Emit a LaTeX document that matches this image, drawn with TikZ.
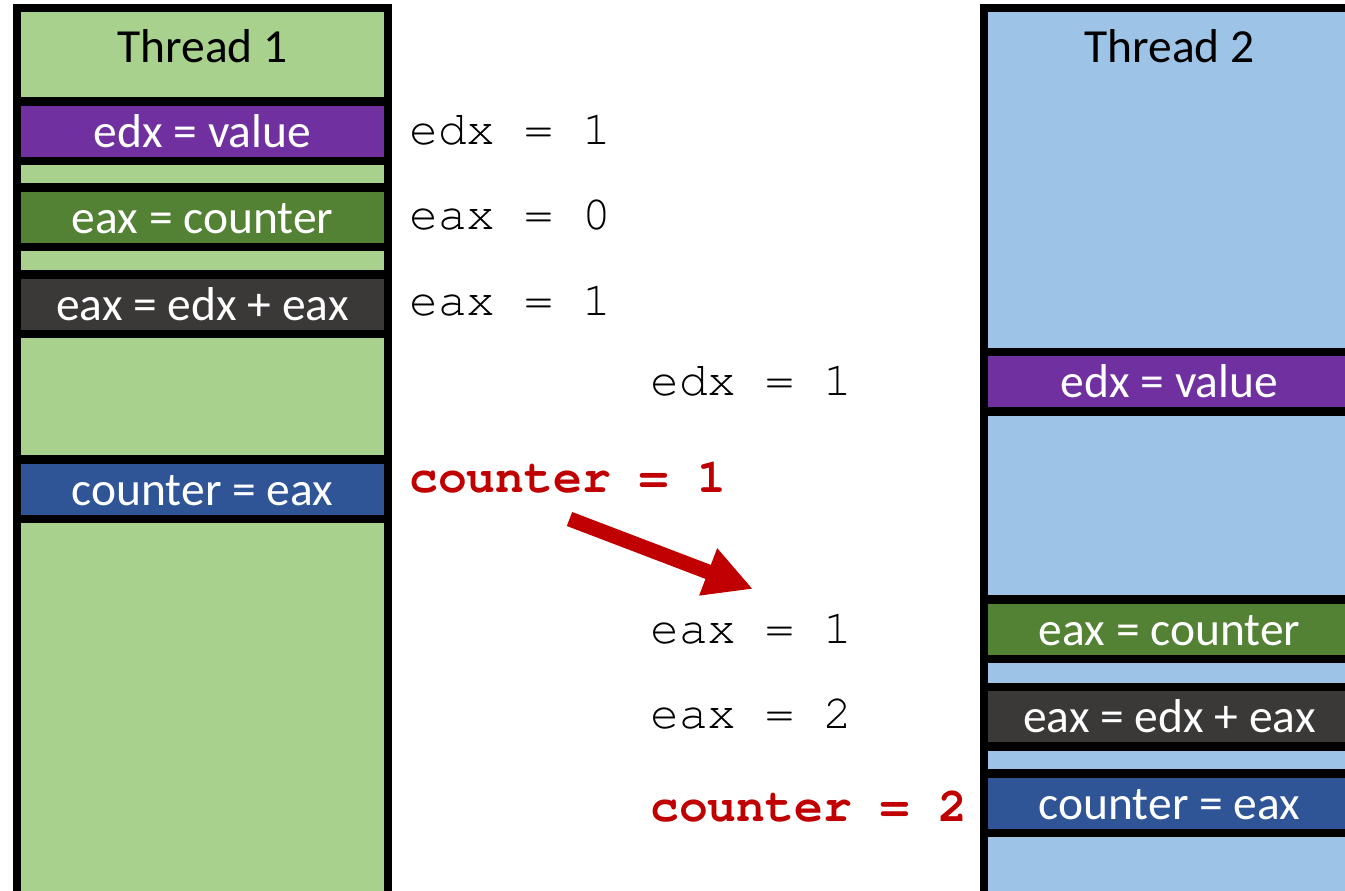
\documentclass[tikz,border=0pt]{standalone}
\usepackage{fontspec}
\setmainfont{Carlito}
\newfontfamily\codefont[Extension=.otf,
  UprightFont=texgyrecursor-regular,
  BoldFont=texgyrecursor-bold]{texgyrecursor}
\usetikzlibrary{arrows.meta}

\definecolor{threadgreen}{HTML}{A9D18E}
\definecolor{threadblue}{HTML}{9DC3E6}
\definecolor{oppurple}{HTML}{7030A0}
\definecolor{opgreen}{HTML}{548235}
\definecolor{opgray}{HTML}{3B3838}
\definecolor{opblue}{HTML}{2F5597}
\definecolor{hotred}{HTML}{C00000}

\begin{document}
\begin{tikzpicture}[x=1pt,y=-1pt,
  panel/.style={draw=black, line width=8.5pt},
  opbox/.style={draw=black, line width=8.5pt, minimum width=371pt,
    minimum height=59.5pt, inner sep=0pt, text=white,
    font=\fontsize{47.5}{57}\selectfont, text height=32pt, text depth=0pt},
  title/.style={anchor=base, inner sep=0pt, font=\fontsize{47.5}{57}\selectfont},
  code/.style={anchor=base west, inner sep=0pt,
    font=\codefont\fontsize{48}{58}\selectfont},
  hot/.style={code, text=hotred,
    font=\codefont\bfseries\fontsize{48}{58}\selectfont},
]
\useasboundingbox (0,0) rectangle (1345,891);
\clip (0,0) rectangle (1345,891);

% thread columns
\fill[threadgreen] (17,8) rectangle (388,900);
\draw[panel] (17,8) rectangle (388,900);
\fill[threadblue] (984,8) rectangle (1355,900);
\draw[panel] (984,8) rectangle (1355,900);

\node[title] (t1) at (202.5,63) {Thread 1};
\node[title] (t2) at (1169.5,63) {Thread 2};

% thread 1 instructions
\node[opbox, fill=oppurple] (a1) at (202.5,131.25) {edx = value};
\node[opbox, fill=opgreen]  (a2) at (202.5,217.25) {eax = counter};
\node[opbox, fill=opgray]   (a3) at (202.5,304.25) {eax = edx + eax};
\node[opbox, fill=opblue]   (a4) at (202.5,489)    {counter = eax};

% thread 2 instructions
\node[opbox, fill=oppurple] (b1) at (1169.5,381.75) {edx = value};
\node[opbox, fill=opgreen]  (b2) at (1169.5,629)    {eax = counter};
\node[opbox, fill=opgray]   (b3) at (1169.5,716.75) {eax = edx + eax};
\node[opbox, fill=opblue]   (b4) at (1169.5,803)    {counter = eax};

% register values, thread 1
\node[code] (v1) at (409,144) {edx = 1};
\node[code] (v2) at (409,229) {eax = 0};
\node[code] (v3) at (409,315) {eax = 1};
\node[hot]  (v4) at (409,492) {counter = 1};

% register values, thread 2
\node[code] (w1) at (650,395) {edx = 1};
\node[code] (w2) at (650,643) {eax = 1};
\node[code] (w3) at (650,728) {eax = 2};
\node[hot]  (w4) at (650,821) {counter = 2};

% stored value carried over
\coordinate (arrS) at (569.5,519);
\coordinate (arrE) at (753,589);
\draw[hotred, line width=15pt, -{Triangle[length=48pt,width=47pt]}] (arrS) -- (arrE);
\end{tikzpicture}
\end{document}
